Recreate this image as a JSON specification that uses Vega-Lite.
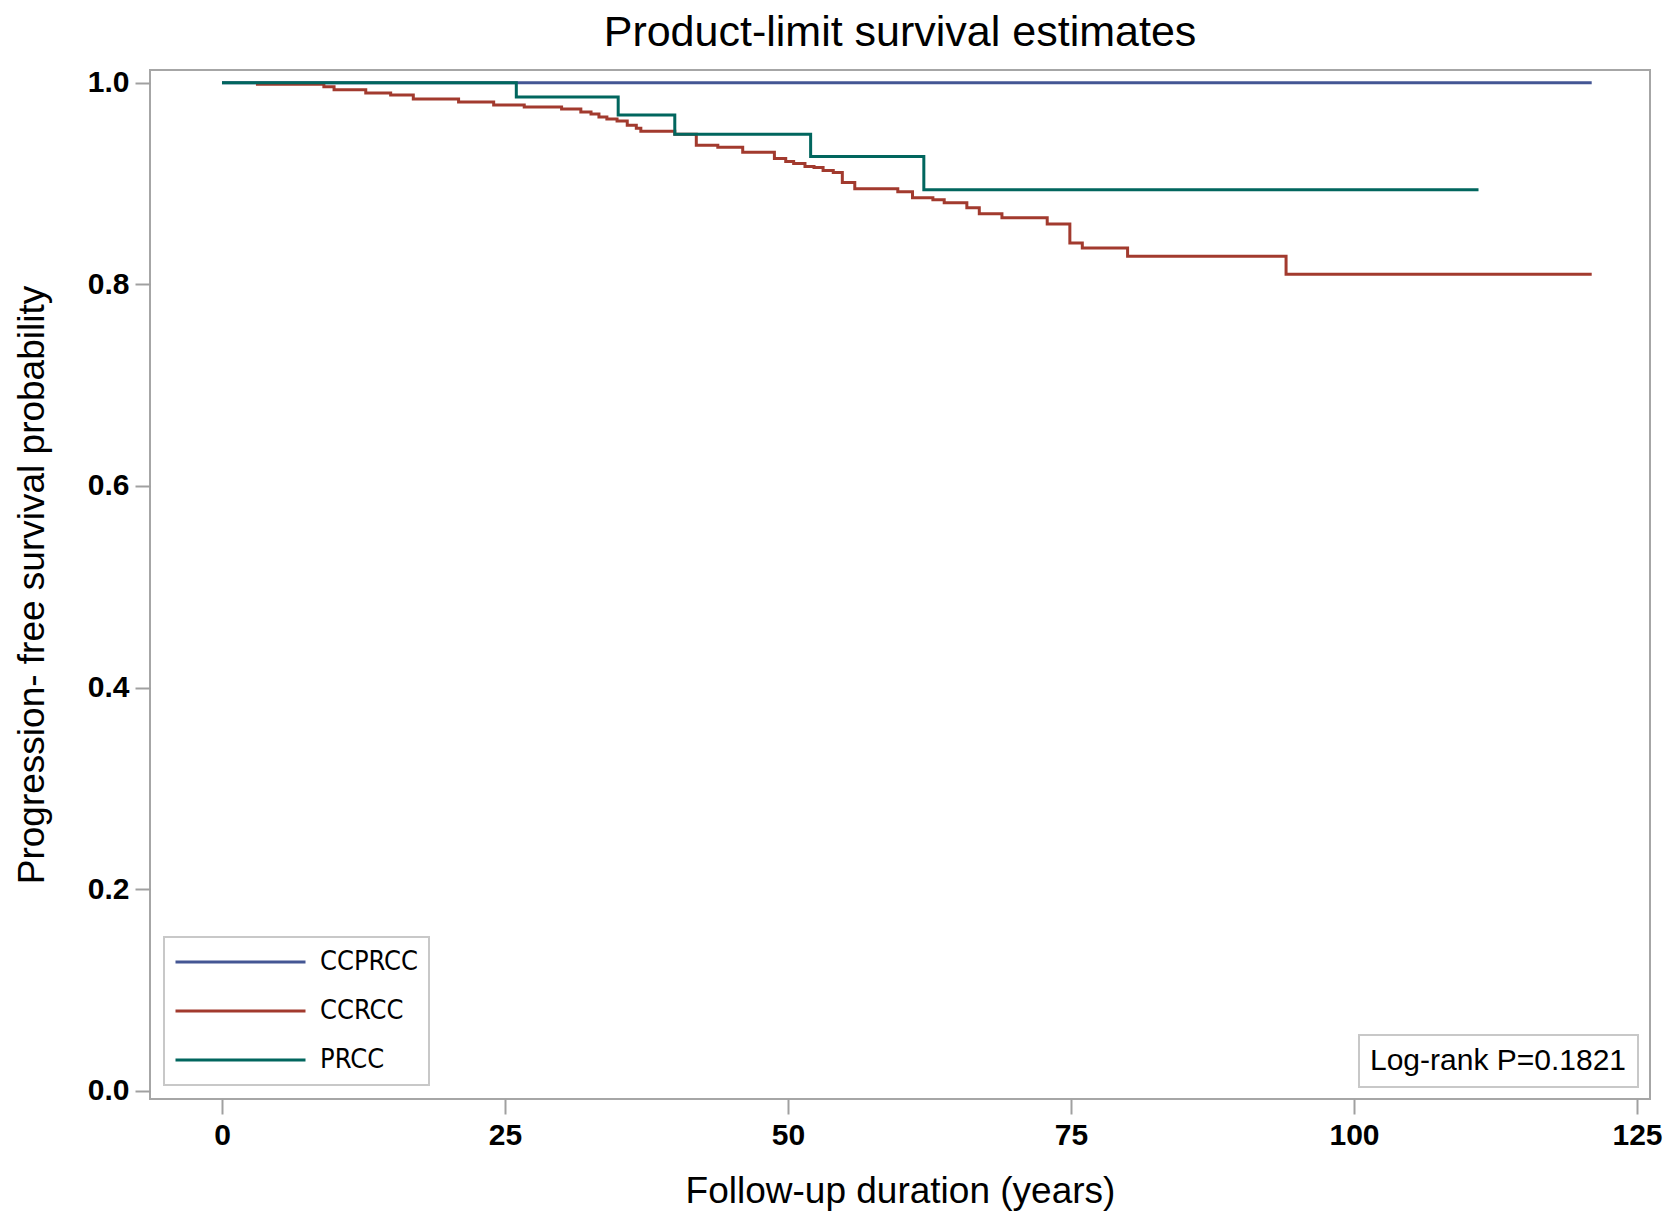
{
  "$schema": "https://vega.github.io/schema/vega-lite/v6.json",
  "autosize": {"type": "none"},
  "width": 1500,
  "height": 1029,
  "padding": {"left": 150, "top": 70, "right": 27, "bottom": 130},
  "background": "white",
  "title": {
    "text": "Product-limit survival estimates",
    "fontSize": 43,
    "fontWeight": "normal",
    "font": "Liberation Sans",
    "color": "#000000",
    "anchor": "middle",
    "frame": "group",
    "baseline": "alphabetic",
    "offset": -21
  },
  "config": {
    "font": "Liberation Sans",
    "view": {"stroke": "#a6a6a6", "strokeWidth": 2},
    "axis": {
      "grid": false,
      "domain": false,
      "tickColor": "#a0a0a0",
      "tickWidth": 2,
      "tickSize": 15,
      "labelFont": "Liberation Sans",
      "labelFontSize": 30,
      "labelFontWeight": "bold",
      "labelColor": "#000000",
      "titleFont": "Liberation Sans",
      "titleFontSize": 37,
      "titleFontWeight": "normal",
      "titleColor": "#000000"
    },
    "legend": {"strokeWidth": 2}
  },
  "layer": [
    {
      "data": {
        "values": [
          {"group": "CCPRCC", "time": 0, "surv": 1.0},
          {"group": "CCPRCC", "time": 121, "surv": 1.0},
          {"group": "CCRCC", "time": 3, "surv": 0.9985},
          {"group": "CCRCC", "time": 9.0, "surv": 0.996},
          {"group": "CCRCC", "time": 9.9, "surv": 0.993},
          {"group": "CCRCC", "time": 12.7, "surv": 0.990},
          {"group": "CCRCC", "time": 14.9, "surv": 0.988},
          {"group": "CCRCC", "time": 16.9, "surv": 0.984},
          {"group": "CCRCC", "time": 20.9, "surv": 0.981},
          {"group": "CCRCC", "time": 24.0, "surv": 0.978},
          {"group": "CCRCC", "time": 26.7, "surv": 0.976},
          {"group": "CCRCC", "time": 30.0, "surv": 0.974},
          {"group": "CCRCC", "time": 31.7, "surv": 0.971},
          {"group": "CCRCC", "time": 32.6, "surv": 0.969},
          {"group": "CCRCC", "time": 33.3, "surv": 0.966},
          {"group": "CCRCC", "time": 34.0, "surv": 0.964},
          {"group": "CCRCC", "time": 34.9, "surv": 0.962},
          {"group": "CCRCC", "time": 35.8, "surv": 0.958},
          {"group": "CCRCC", "time": 36.6, "surv": 0.955},
          {"group": "CCRCC", "time": 37.0, "surv": 0.952},
          {"group": "CCRCC", "time": 40.0, "surv": 0.949},
          {"group": "CCRCC", "time": 41.9, "surv": 0.938},
          {"group": "CCRCC", "time": 43.8, "surv": 0.936},
          {"group": "CCRCC", "time": 46.0, "surv": 0.931},
          {"group": "CCRCC", "time": 48.8, "surv": 0.925},
          {"group": "CCRCC", "time": 49.8, "surv": 0.922},
          {"group": "CCRCC", "time": 50.5, "surv": 0.920},
          {"group": "CCRCC", "time": 51.5, "surv": 0.917},
          {"group": "CCRCC", "time": 52.3, "surv": 0.916},
          {"group": "CCRCC", "time": 53.1, "surv": 0.913},
          {"group": "CCRCC", "time": 54.0, "surv": 0.911},
          {"group": "CCRCC", "time": 54.8, "surv": 0.901},
          {"group": "CCRCC", "time": 55.9, "surv": 0.895},
          {"group": "CCRCC", "time": 59.7, "surv": 0.892},
          {"group": "CCRCC", "time": 61.0, "surv": 0.886},
          {"group": "CCRCC", "time": 62.8, "surv": 0.884},
          {"group": "CCRCC", "time": 63.8, "surv": 0.881},
          {"group": "CCRCC", "time": 65.8, "surv": 0.876},
          {"group": "CCRCC", "time": 66.9, "surv": 0.870},
          {"group": "CCRCC", "time": 68.9, "surv": 0.866},
          {"group": "CCRCC", "time": 72.9, "surv": 0.860},
          {"group": "CCRCC", "time": 74.9, "surv": 0.841},
          {"group": "CCRCC", "time": 76.0, "surv": 0.836},
          {"group": "CCRCC", "time": 80.0, "surv": 0.828},
          {"group": "CCRCC", "time": 94.0, "surv": 0.810},
          {"group": "CCRCC", "time": 121.0, "surv": 0.810},
          {"group": "PRCC", "time": 0, "surv": 1.0},
          {"group": "PRCC", "time": 26.0, "surv": 0.986},
          {"group": "PRCC", "time": 35.0, "surv": 0.968},
          {"group": "PRCC", "time": 40.0, "surv": 0.949},
          {"group": "PRCC", "time": 52.0, "surv": 0.927},
          {"group": "PRCC", "time": 62.0, "surv": 0.894},
          {"group": "PRCC", "time": 111.0, "surv": 0.894}
        ]
      },
      "mark": {"type": "line", "interpolate": "step-after", "strokeWidth": 3},
      "encoding": {
        "x": {
          "field": "time",
          "type": "quantitative",
          "scale": {"domain": [-6.36, 126.15], "nice": false, "zero": false},
          "axis": {
            "title": "Follow-up duration (years)",
            "values": [0, 25, 50, 75, 100, 125],
            "format": "d",
            "labelPadding": 6,
            "titlePadding": 23
          }
        },
        "y": {
          "field": "surv",
          "type": "quantitative",
          "scale": {"domain": [-0.0082, 1.0127], "nice": false, "zero": false},
          "axis": {
            "title": "Progression- free survival probability",
            "values": [0, 0.2, 0.4, 0.6, 0.8, 1.0],
            "format": ".1f",
            "labelPadding": 6,
            "titlePadding": 36
          }
        },
        "color": {
          "field": "group",
          "type": "nominal",
          "scale": {
            "domain": ["CCPRCC", "CCRCC", "PRCC"],
            "range": ["#445694", "#A23A2E", "#01665E"]
          },
          "legend": {
            "title": null,
            "orient": "bottom-left",
            "offset": 14,
            "symbolType": "stroke",
            "symbolSize": 16900,
            "symbolStrokeWidth": 3,
            "labelFont": "Liberation Sans Narrow, DejaVu Sans Condensed, sans-serif",
            "labelFontSize": 27,
            "labelFontWeight": "normal",
            "labelColor": "#000000",
            "labelOffset": 13,
            "clipHeight": 30,
            "rowPadding": 19,
            "padding": 10,
            "strokeColor": "#c8c8c8",
            "fillColor": "white"
          }
        }
      }
    },
    {
      "data": {"values": [{"note": "Log-rank P=0.1821"}]},
      "mark": {"type": "point", "opacity": 0},
      "encoding": {
        "shape": {
          "field": "note",
          "type": "nominal",
          "legend": {
            "title": null,
            "orient": "bottom-right",
            "offset": 12,
            "symbolSize": 1,
            "symbolOpacity": 0,
            "symbolStrokeWidth": 0,
            "labelOffset": -30,
            "labelFontSize": 30,
            "labelFont": "Liberation Sans",
            "labelColor": "#000000",
            "labelLimit": 500,
            "padding": 11,
            "strokeColor": "#c8c8c8",
            "fillColor": "white"
          }
        }
      }
    }
  ]
}
